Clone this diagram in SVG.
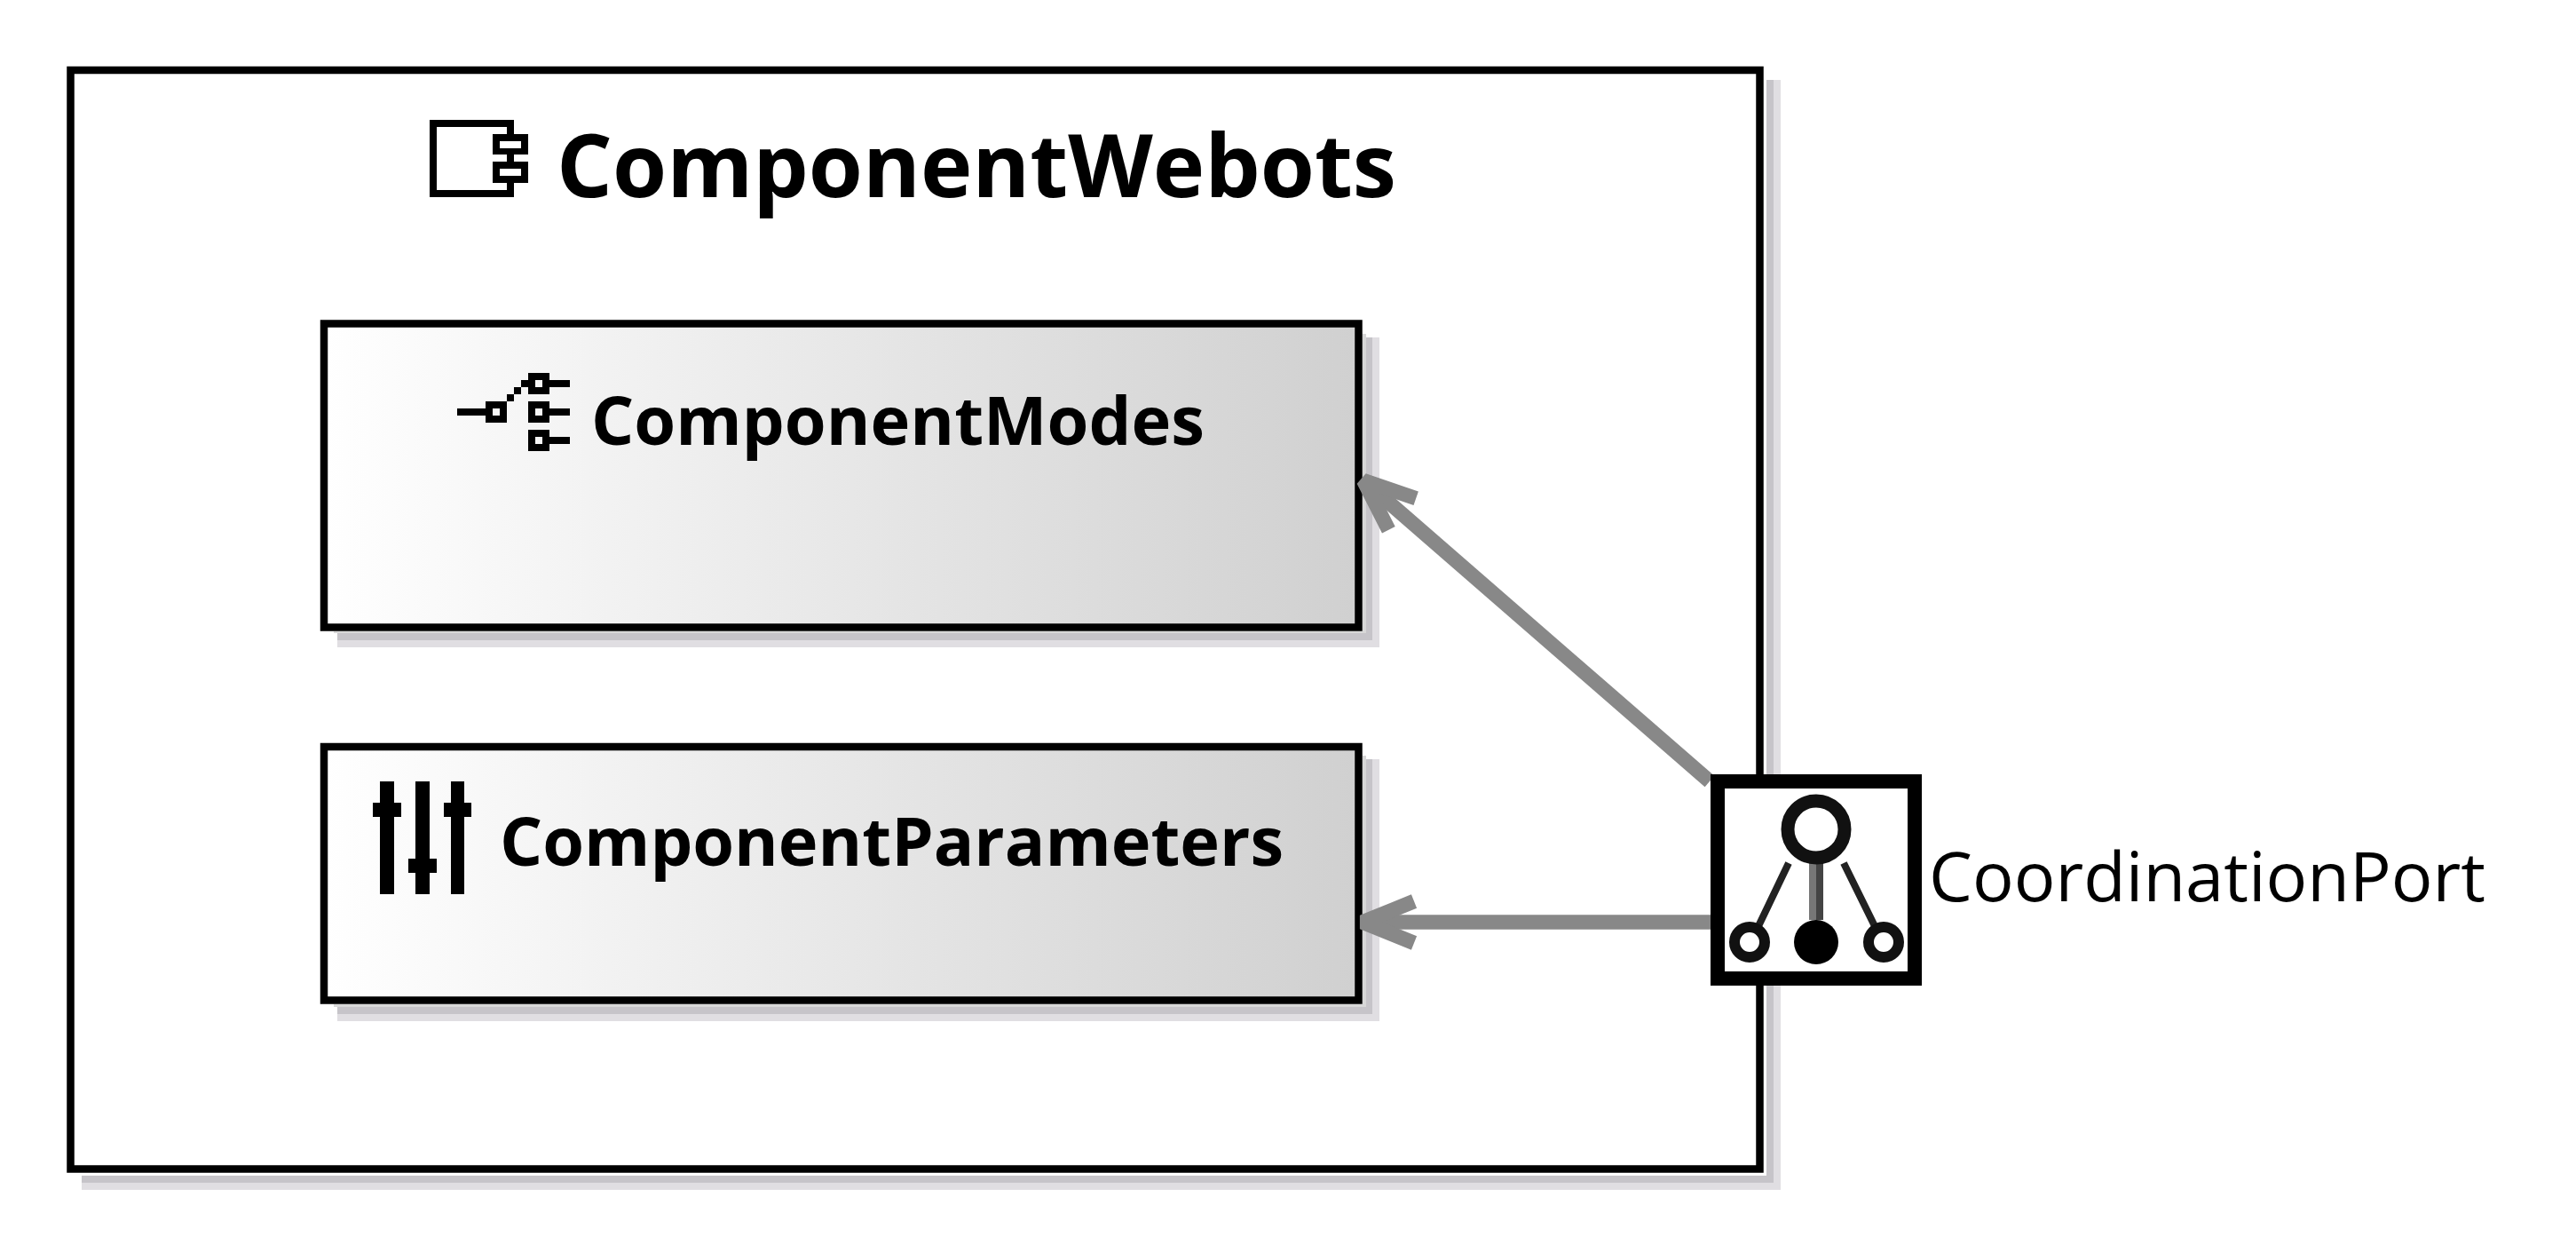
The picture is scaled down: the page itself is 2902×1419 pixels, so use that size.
<svg xmlns="http://www.w3.org/2000/svg" width="2902" height="1419" viewBox="0 0 2902 1419">
<style>
text{font-family:"Open Sans","Noto Sans",sans-serif;fill:#000}
.b{font-weight:700}
.s0{fill:#d8d8d8}
.s1{fill:#c6c4c9}
.s2{fill:#e0dee2}
.box{stroke:#000;stroke-width:8.5}
.conn{fill:none;stroke:#888;stroke-width:16.5;marker-end:url(#arrow)}
</style>
<defs>
<linearGradient id="g" x1="0" x2="1" y1="0" y2="0"><stop offset="0" stop-color="#fff"/><stop offset="1" stop-color="#d0d0d0"/></linearGradient>
<marker id="arrow" markerUnits="userSpaceOnUse" markerWidth="90" markerHeight="80" viewBox="-70 -40 90 80" refX="0" refY="0" orient="auto" overflow="visible"><path d="M-58,-23.5 L0,0 L-58,23.5" fill="none" stroke="#888" stroke-width="16.5" stroke-linejoin="bevel"/></marker>
</defs>
<rect width="2902" height="1419" fill="#fff"/>
<g id="ComponentWebots">
<path class="s2" d="M1998,90H2006V1340H92V1332H1998Z"/>
<path class="s1" d="M1990,90H1998V1332H92V1324H1990Z"/>
<rect x="79.500" y="79" width="1903" height="1237.500" fill="#fff" class="box"/>
<path fill-rule="evenodd" d="M484,135H579V151H595V174H579V182H595V206H579V222H484ZM492,143V214H571V206H555V182H571V174H555V151H571V143ZM563,159V167H587V159ZM563,190V198H587V190Z"/>
<text class="b" x="627" y="222" font-size="98" textLength="946" lengthAdjust="spacingAndGlyphs">ComponentWebots</text>
</g>
<g id="ComponentModes">
<path class="s2" d="M1546,380H1554V729H380V721H1546Z"/>
<path class="s1" d="M1539,380H1546V721H380V713H1539Z"/>
<path class="s0" d="M1535,376H1539V713H376V711H1535Z"/>
<rect x="365" y="364.500" width="1165.500" height="342" fill="url(#g)" class="box"/>
<path d="M515,460H547V452H571V444H579V436H587V428H595V420H619V428H642V436H619V444H595V436H587V444H579V452H571V476H547V468H515ZM555,460V468H563V460ZM603,428V436H611V428ZM595,452H619V460H642V468H619V476H595ZM603,460V468H611V460ZM595,484H619V492H642V500H619V508H595ZM603,492V500H611V492Z" fill-rule="evenodd"/>
<text class="b" x="666" y="501" font-size="76" textLength="691" lengthAdjust="spacingAndGlyphs">ComponentModes</text>
</g>
<g id="ComponentParameters">
<path class="s2" d="M1546,855H1554V1150H380V1142H1546Z"/>
<path class="s1" d="M1539,855H1546V1142H380V1134H1539Z"/>
<path class="s0" d="M1535,851H1539V1134H376V1131H1535Z"/>
<rect x="365" y="841" width="1165.500" height="285.500" fill="url(#g)" class="box"/>
<path d="M428,880H444V904H452V920H444V1007H428V920H420V904H428ZM468,880H484V967H492V983H484V1007H468V983H460V967H468ZM508,880H523V904H531V920H523V1007H508V920H500V904H508Z"/>
<text class="b" x="563" y="975" font-size="76" textLength="883" lengthAdjust="spacingAndGlyphs">ComponentParameters</text>
</g>
<g id="connectors">
<path class="conn" d="M1926,880L1536,541"/>
<path class="conn" d="M1927,1038.500H1535"/>
</g>
<g id="CoordinationPort">
<rect x="1935" y="880" width="222" height="222" fill="#fff" stroke="#000" stroke-width="16"/>
<path d="M2015,972L1981,1043M2077,972L2112,1043" fill="none" stroke="#222" stroke-width="8"/>
<rect x="2038" y="970" width="8" height="66" fill="#777"/>
<rect x="2046" y="970" width="8" height="66" fill="#444"/>
<g fill="#fff" stroke="#111">
<circle cx="2046" cy="934" r="32" stroke-width="15"/>
<circle cx="1971" cy="1061" r="17" stroke-width="12"/>
<circle cx="2122" cy="1061" r="17" stroke-width="12"/>
</g>
<circle cx="2046" cy="1061" r="25" fill="#000"/>
<text x="2173" y="1015" font-size="77" textLength="627" lengthAdjust="spacingAndGlyphs">CoordinationPort</text>
</g>
</svg>
